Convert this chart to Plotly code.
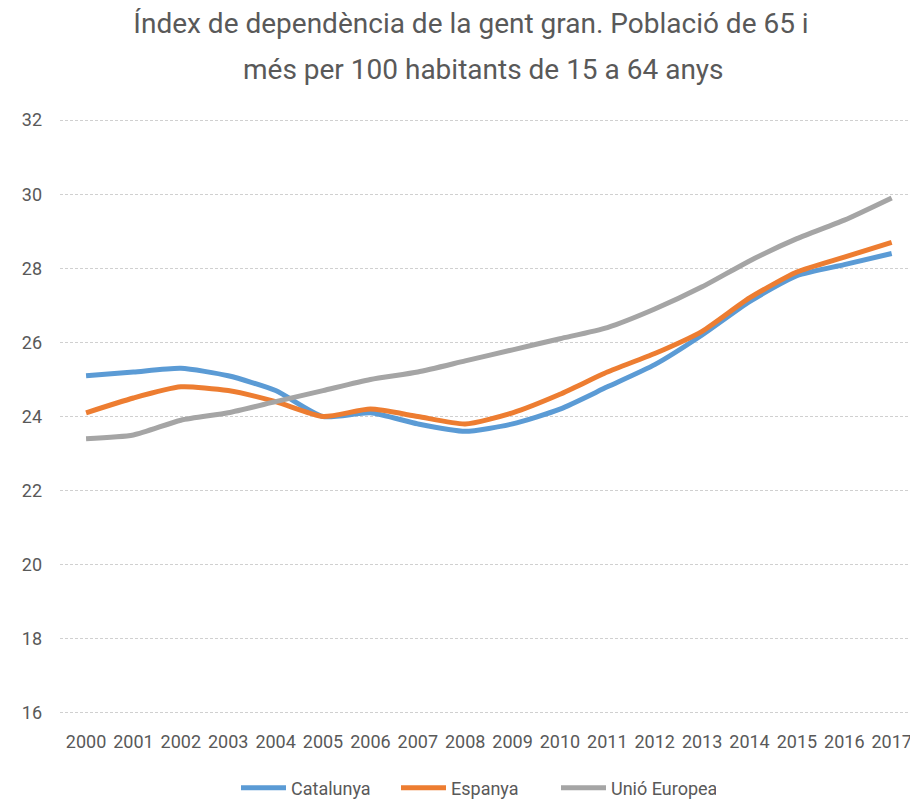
import plotly.graph_objects as go

years = [str(y) for y in range(2000, 2018)]
catalunya = [25.1, 25.2, 25.3, 25.1, 24.7, 24.0, 24.1, 23.8, 23.6, 23.8, 24.2, 24.8, 25.4, 26.2, 27.1, 27.8, 28.1, 28.4]
espanya = [24.1, 24.5, 24.8, 24.7, 24.4, 24.0, 24.2, 24.0, 23.8, 24.1, 24.6, 25.2, 25.7, 26.3, 27.2, 27.9, 28.3, 28.7]
ue = [23.4, 23.5, 23.9, 24.1, 24.4, 24.7, 25.0, 25.2, 25.5, 25.8, 26.1, 26.4, 26.9, 27.5, 28.2, 28.8, 29.3, 29.9]
y_ticks = [16, 18, 20, 22, 24, 26, 28, 30, 32]
title_line1 = "Índex de dependència de la gent gran. Població de 65 i"
title_line2 = "més per 100 habitants de 15 a 64 anys"

FONT = "Roboto, Liberation Sans, sans-serif"
GREY = "#595959"

# the page body adds an 8px offset, so the figure is 910x794
W, H = 910, 794
L, R, T, B = 52, 5, 111, 88
PW, PH = W - L - R, H - T - B

fig = go.Figure()
for name, vals, col in [("Catalunya", catalunya, "#5B9BD5"),
                        ("Espanya", espanya, "#ED7D31"),
                        ("Unió Europea", ue, "#A5A5A5")]:
    fig.add_trace(go.Scatter(x=years, y=vals, name=name, mode="lines",
                             line=dict(color=col, width=5, shape="spline", smoothing=0.6)))

fig.update_layout(
    width=W, height=H,
    paper_bgcolor="white", plot_bgcolor="white",
    margin=dict(l=L, r=R, t=T, b=B),
    font=dict(family=FONT, color=GREY, size=18),
    title=dict(text=title_line1,
               x=463 / W, xref="container", xanchor="center",
               y=1 - 15 / H, yref="container", yanchor="middle",
               font=dict(family=FONT, size=28, color=GREY)),
    annotations=[dict(text=title_line2, xref="paper", yref="paper",
                      x=(475 - L) / PW, y=(H - B - 61) / PH,
                      xanchor="center", yanchor="middle", showarrow=False,
                      font=dict(family=FONT, size=28, color=GREY))],
    xaxis=dict(range=[-0.55, 17.45], showgrid=False, showline=False, ticks="",
               ticklabelstandoff=15, automargin=False,
               tickfont=dict(size=18, color=GREY)),
    yaxis=dict(range=[15.97, 32.03], tickvals=y_ticks, showgrid=True, gridcolor="#D0D0D0",
               griddash="3px,2px", gridwidth=1, zeroline=False, showline=False,
               automargin=False, ticks="", ticklabelstandoff=17,
               tickfont=dict(size=18, color=GREY)),
    legend=dict(orientation="h", xref="container", yref="container",
                x=468 / W, xanchor="center", y=1 - 780 / H, yanchor="middle",
                itemwidth=45, entrywidth=100, entrywidthmode="pixels",
                font=dict(size=18, color=GREY), traceorder="normal"),
)

fig.write_html("out.html")
